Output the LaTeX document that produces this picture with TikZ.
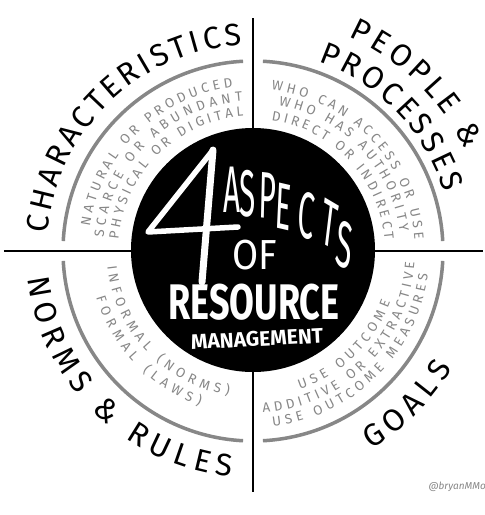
\documentclass[tikz,border=0pt]{standalone}
\usepackage{fontspec}
\setmainfont{Fira Sans}
\usetikzlibrary{decorations.text}
\definecolor{ringgray}{RGB}{135,135,135}
\newcommand{\smallfont}{\fontsize{13.5}{13.5}\selectfont}
\newcommand{\bigfont}{\fontsize{31}{31}\selectfont}
\tikzset{
    ring/.style={line width=3.5pt, ringgray},
    axis/.style={line width=2.2pt, black},
    graytext/.style={decorate, decoration={text along path, text align={fit to path},
        text color=ringgray, text={|\smallfont|#1}}},
    blacktext/.style={decorate, decoration={text along path, text align={fit to path},
        text color=black, text={|\bigfont|#1}}},
    whitetext/.style={text=white, inner sep=0pt},
    aspect/.style={whitetext, font=\fontsize{66}{66}\selectfont, xscale=0.45},
    four/.style={white, line join=round, line cap=round}
}

\begin{document}
\begin{tikzpicture}[x=1pt, y=1pt]
    \useasboundingbox (-253,-264) rectangle (232,251);
    \fill[white] (-253,-264) rectangle (232,251);

    % cross and rings
    \draw[axis] (0,233) -- (0,-241);
    \draw[axis] (-249,0) -- (230,0);
    \foreach \a in {0,90,180,270}
        \draw[ring] (\a+3:190) arc[start angle=\a+3, end angle=\a+87, radius=190];

    % hub
    \node[circle, fill=black, minimum size=244pt, inner sep=0pt] (hub) at (0,1) {};
    \draw[four, line width=5.5pt] (-15,24) -- (-105,19) -- (-40,101);
    \draw[four, line width=7pt] (-40,101) -- (-51,-31);
    \foreach \ch/\px/\py/\rot [count=\i] in {A/-21/61/0, S/-5/57/0, P/15/55/-3,
            E/30/44/-6, C/53/36/-10, T/77/27/-15, S/92/6/-12}
        \node[aspect, rotate=\rot] (asp\i) at (\px,\py) {\ch};
    \node[whitetext, font=\fontsize{42}{42}\selectfont, xscale=0.9] (of) at (2,-4) {OF};
    \node[whitetext, font=\bfseries\fontsize{50}{50}\selectfont, xscale=0.72] (resource) at (1,-51) {RESOURCE};
    \node[whitetext, font=\bfseries\fontsize{21}{21}\selectfont, rotate=3] (management) at (4,-88) {MANAGEMENT};

    % characteristics
    \path[blacktext={CHARACTERISTICS}] (175:206) arc[start angle=175, end angle=93, radius=206];
    \path[graytext={NATURAL OR PRODUCED}] (171.5:165) arc[start angle=171.5, end angle=97, radius=165];
    \path[graytext={SCARCE OR ABUNDANT}] (175:150) arc[start angle=175, end angle=94, radius=150];
    \path[graytext={PHYSICAL OR DIGITAL}] (175:135) arc[start angle=175, end angle=94, radius=135];

    % people & processes
    \path[blacktext={PEOPLE {\&}}] (66:235) arc[start angle=66, end angle=25.5, radius=235];
    \path[blacktext={PROCESSES}] (71:200) arc[start angle=71, end angle=17, radius=200];
    \path[graytext={WHO CAN ACCESS OR USE}] (83.5:162) arc[start angle=83.5, end angle=4, radius=162];
    \path[graytext={WHO HAS AUTHORITY}] (80:148) arc[start angle=80, end angle=7.5, radius=148];
    \path[graytext={DIRECT OR INDIRECT}] (82:132) arc[start angle=82, end angle=5, radius=132];

    % norms & rules
    \path[blacktext={NORMS {\&} RULES}] (187:227) arc[start angle=187, end angle=264.5, radius=227];
    \path[graytext={INFORMAL (NORMS)}] (186:146.5) arc[start angle=186, end angle=260.5, radius=146.5];
    \path[graytext={FORMAL (LAWS)}] (196.5:163.5) arc[start angle=196.5, end angle=251, radius=163.5];

    % goals
    \path[blacktext={GOALS}] (-59.2:231) arc[start angle=-59.2, end angle=-30.5, radius=231];
    \path[graytext={USE OUTCOME}] (-71.3:146.5) arc[start angle=-71.3, end angle=-20.4, radius=146.5];
    \path[graytext={ADDITIVE OR EXTRACTIVE}] (-86.5:162) arc[start angle=-86.5, end angle=-4, radius=162];
    \path[graytext={USE OUTCOME MEASURES}] (-83.5:176.5) arc[start angle=-83.5, end angle=-7.5, radius=176.5];

    \node[anchor=west, text=ringgray, font=\itshape\fontsize{10}{10}\selectfont] (credit) at (172,-236) {@bryanMMo};
\end{tikzpicture}
\end{document}
